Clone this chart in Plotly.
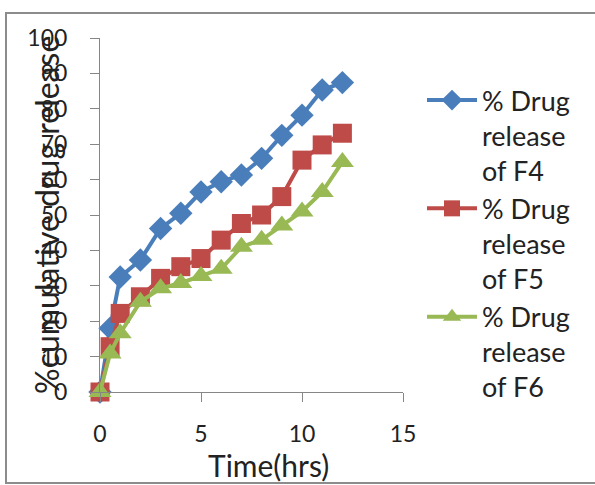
import plotly.graph_objects as go

# Sampling times (hours) and cumulative release (%) for each formulation
time_hrs = [0, 0.5, 1, 2, 3, 4, 5, 6, 7, 8, 9, 10, 11, 12]
f4_release = [0, 18, 32.5, 37.3, 46.2, 50.5, 56.5, 59.4, 61.3, 66, 72.5, 78.2, 85.3, 87.4]
f5_release = [0, 12.8, 22.2, 26.9, 32.1, 35.4, 37.7, 42.9, 47.6, 50, 55.2, 65.5, 69.8, 73.1]
f6_release = [0, 10.9, 16.6, 25.5, 29.3, 30.8, 32.8, 34.8, 41, 43, 47, 51, 56.5, 65]

series_names = ["% Drug<br>release<br>of F4", "% Drug<br>release<br>of F5", "% Drug<br>release<br>of F6"]
x_ticks = [0, 5, 10, 15]
y_ticks = [0, 10, 20, 30, 40, 50, 60, 70, 80, 90, 100]

FONT = "Lato, 'Open Sans', sans-serif"
W, H = 595, 485
L, R, T, B = 100, 192, 38, 93

fig = go.Figure()
styles = [
    (f4_release, "#4A7EBB", "diamond", 18),
    (f5_release, "#BE4B48", "square", 19),
    (f6_release, "#98B954", "triangle-up", 20),
]
for (vals, color, sym, size), name in zip(styles, series_names):
    fig.add_trace(go.Scatter(
        x=time_hrs, y=vals, name=name, mode="lines+markers",
        line=dict(color=color, width=4),
        marker=dict(symbol=sym, size=size, color=color),
        cliponaxis=False,
    ))

axis_common = dict(
    showgrid=False, zeroline=False, showline=True,
    linecolor="#868686", linewidth=1,
    ticks="outside", ticklen=9, tickcolor="#868686",
    tickfont=dict(family=FONT, size=23, color="#222"),
)
fig.update_xaxes(range=[0, 15], tickvals=x_ticks, ticklabelstandoff=12, **axis_common)
fig.update_yaxes(range=[0, 100], tickvals=y_ticks, ticklabelstandoff=18, **axis_common)

pw, ph = W - L - R, H - T - B
def px(xp):
    return (xp - L) / pw
def py(yp):
    return (H - B - yp) / ph

fig.add_annotation(
    text="%cumulative drug release", textangle=-90,
    xref="paper", yref="paper", x=px(46), y=py(215),
    xanchor="center", yanchor="middle", showarrow=False,
    font=dict(family=FONT, size=32, color="#222"),
)
fig.add_annotation(
    text="Time(hrs)",
    xref="paper", yref="paper", x=px(268), y=py(465),
    xanchor="center", yanchor="middle", showarrow=False,
    font=dict(family=FONT, size=30, color="#222"),
)

# Chart frame
fig.add_shape(type="rect", xref="paper", yref="paper",
              x0=px(6), x1=px(602), y0=py(483), y1=py(13),
              line=dict(color="#8C8C8C", width=2), layer="below")

fig.update_layout(
    width=W, height=H,
    margin=dict(l=L, r=R, t=T, b=B),
    paper_bgcolor="white", plot_bgcolor="white",
    font=dict(family=FONT, size=20, color="#222"),
    legend=dict(
        x=px(422), y=py(76), xanchor="left", yanchor="top",
        valign="top", tracegroupgap=14,
        font=dict(family=FONT, size=27, color="#222"),
        itemwidth=50,
    ),
)

fig.write_html("out.html")
